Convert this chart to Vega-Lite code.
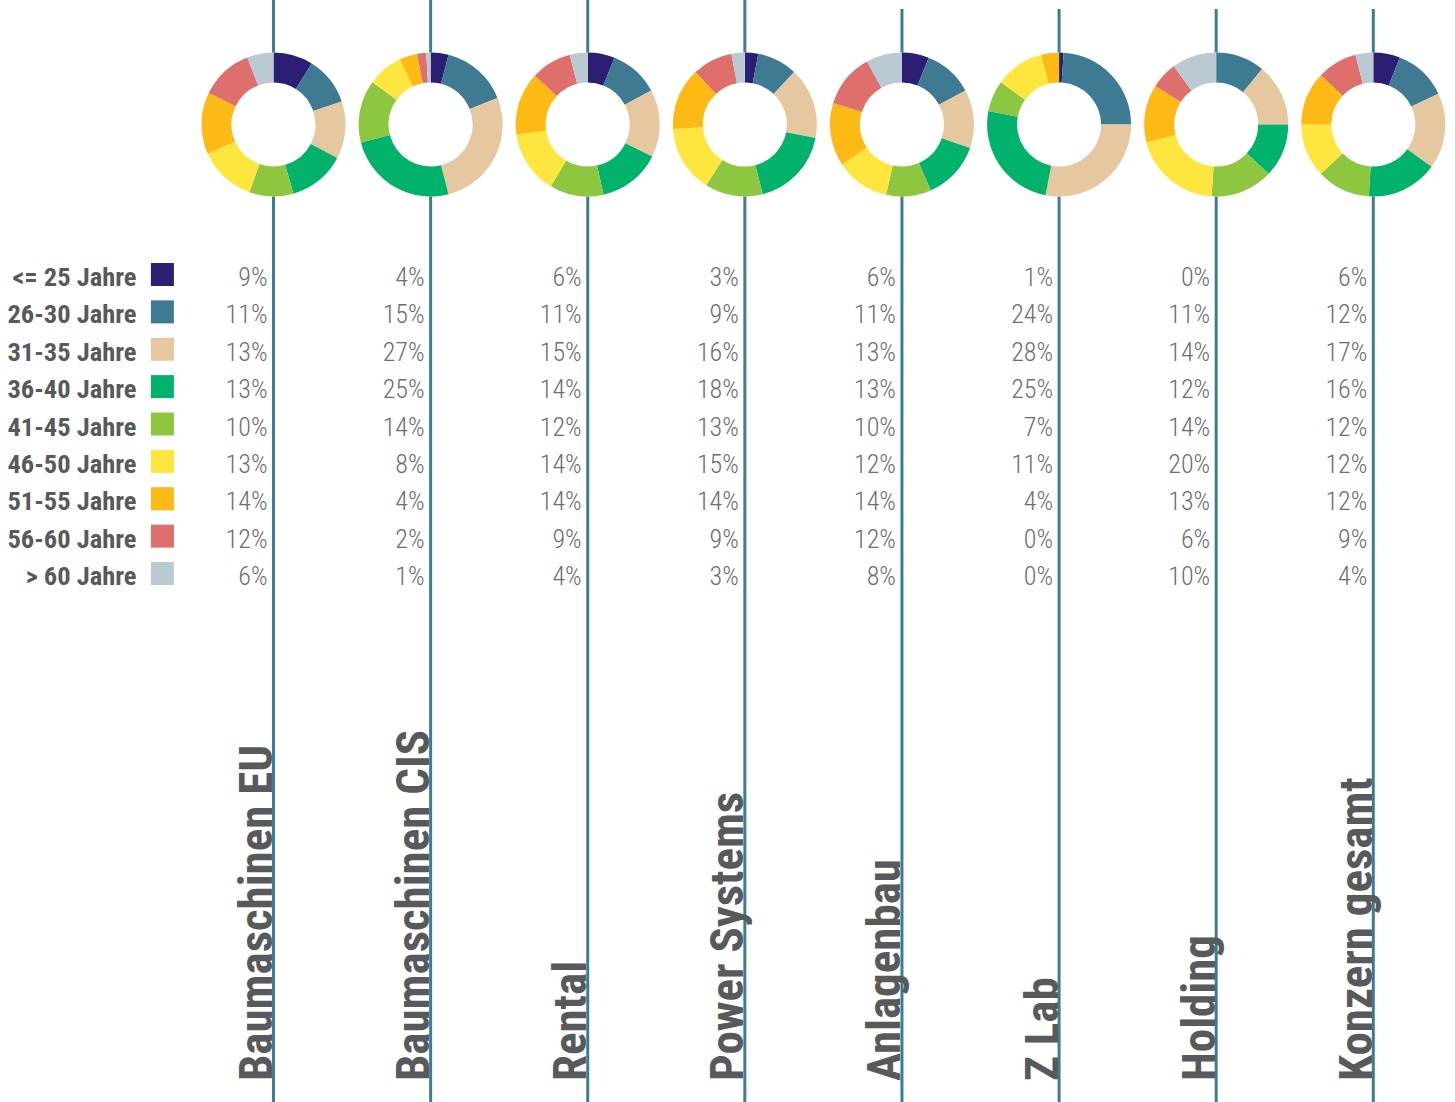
{
  "$schema": "https://vega.github.io/schema/vega-lite/v6.json",
  "width": 1455,
  "height": 1102,
  "autosize": {"type": "none"},
  "padding": 0,
  "background": "white",
  "config": {"view": {"stroke": null}},
  "datasets": {
    "werte": [
      {"seg": "Baumaschinen EU", "age": "<= 25 Jahre", "o": 1, "p": 0.09},
      {"seg": "Baumaschinen EU", "age": "26-30 Jahre", "o": 2, "p": 0.11},
      {"seg": "Baumaschinen EU", "age": "31-35 Jahre", "o": 3, "p": 0.13},
      {"seg": "Baumaschinen EU", "age": "36-40 Jahre", "o": 4, "p": 0.13},
      {"seg": "Baumaschinen EU", "age": "41-45 Jahre", "o": 5, "p": 0.10},
      {"seg": "Baumaschinen EU", "age": "46-50 Jahre", "o": 6, "p": 0.13},
      {"seg": "Baumaschinen EU", "age": "51-55 Jahre", "o": 7, "p": 0.14},
      {"seg": "Baumaschinen EU", "age": "56-60 Jahre", "o": 8, "p": 0.12},
      {"seg": "Baumaschinen EU", "age": "> 60 Jahre", "o": 9, "p": 0.06},
      {"seg": "Baumaschinen CIS", "age": "<= 25 Jahre", "o": 1, "p": 0.04},
      {"seg": "Baumaschinen CIS", "age": "26-30 Jahre", "o": 2, "p": 0.15},
      {"seg": "Baumaschinen CIS", "age": "31-35 Jahre", "o": 3, "p": 0.27},
      {"seg": "Baumaschinen CIS", "age": "36-40 Jahre", "o": 4, "p": 0.25},
      {"seg": "Baumaschinen CIS", "age": "41-45 Jahre", "o": 5, "p": 0.14},
      {"seg": "Baumaschinen CIS", "age": "46-50 Jahre", "o": 6, "p": 0.08},
      {"seg": "Baumaschinen CIS", "age": "51-55 Jahre", "o": 7, "p": 0.04},
      {"seg": "Baumaschinen CIS", "age": "56-60 Jahre", "o": 8, "p": 0.02},
      {"seg": "Baumaschinen CIS", "age": "> 60 Jahre", "o": 9, "p": 0.01},
      {"seg": "Rental", "age": "<= 25 Jahre", "o": 1, "p": 0.06},
      {"seg": "Rental", "age": "26-30 Jahre", "o": 2, "p": 0.11},
      {"seg": "Rental", "age": "31-35 Jahre", "o": 3, "p": 0.15},
      {"seg": "Rental", "age": "36-40 Jahre", "o": 4, "p": 0.14},
      {"seg": "Rental", "age": "41-45 Jahre", "o": 5, "p": 0.12},
      {"seg": "Rental", "age": "46-50 Jahre", "o": 6, "p": 0.14},
      {"seg": "Rental", "age": "51-55 Jahre", "o": 7, "p": 0.14},
      {"seg": "Rental", "age": "56-60 Jahre", "o": 8, "p": 0.09},
      {"seg": "Rental", "age": "> 60 Jahre", "o": 9, "p": 0.04},
      {"seg": "Power Systems", "age": "<= 25 Jahre", "o": 1, "p": 0.03},
      {"seg": "Power Systems", "age": "26-30 Jahre", "o": 2, "p": 0.09},
      {"seg": "Power Systems", "age": "31-35 Jahre", "o": 3, "p": 0.16},
      {"seg": "Power Systems", "age": "36-40 Jahre", "o": 4, "p": 0.18},
      {"seg": "Power Systems", "age": "41-45 Jahre", "o": 5, "p": 0.13},
      {"seg": "Power Systems", "age": "46-50 Jahre", "o": 6, "p": 0.15},
      {"seg": "Power Systems", "age": "51-55 Jahre", "o": 7, "p": 0.14},
      {"seg": "Power Systems", "age": "56-60 Jahre", "o": 8, "p": 0.09},
      {"seg": "Power Systems", "age": "> 60 Jahre", "o": 9, "p": 0.03},
      {"seg": "Anlagenbau", "age": "<= 25 Jahre", "o": 1, "p": 0.06},
      {"seg": "Anlagenbau", "age": "26-30 Jahre", "o": 2, "p": 0.11},
      {"seg": "Anlagenbau", "age": "31-35 Jahre", "o": 3, "p": 0.13},
      {"seg": "Anlagenbau", "age": "36-40 Jahre", "o": 4, "p": 0.13},
      {"seg": "Anlagenbau", "age": "41-45 Jahre", "o": 5, "p": 0.10},
      {"seg": "Anlagenbau", "age": "46-50 Jahre", "o": 6, "p": 0.12},
      {"seg": "Anlagenbau", "age": "51-55 Jahre", "o": 7, "p": 0.14},
      {"seg": "Anlagenbau", "age": "56-60 Jahre", "o": 8, "p": 0.12},
      {"seg": "Anlagenbau", "age": "> 60 Jahre", "o": 9, "p": 0.08},
      {"seg": "Z Lab", "age": "<= 25 Jahre", "o": 1, "p": 0.01},
      {"seg": "Z Lab", "age": "26-30 Jahre", "o": 2, "p": 0.24},
      {"seg": "Z Lab", "age": "31-35 Jahre", "o": 3, "p": 0.28},
      {"seg": "Z Lab", "age": "36-40 Jahre", "o": 4, "p": 0.25},
      {"seg": "Z Lab", "age": "41-45 Jahre", "o": 5, "p": 0.07},
      {"seg": "Z Lab", "age": "46-50 Jahre", "o": 6, "p": 0.11},
      {"seg": "Z Lab", "age": "51-55 Jahre", "o": 7, "p": 0.04},
      {"seg": "Z Lab", "age": "56-60 Jahre", "o": 8, "p": 0.00},
      {"seg": "Z Lab", "age": "> 60 Jahre", "o": 9, "p": 0.00},
      {"seg": "Holding", "age": "<= 25 Jahre", "o": 1, "p": 0.00},
      {"seg": "Holding", "age": "26-30 Jahre", "o": 2, "p": 0.11},
      {"seg": "Holding", "age": "31-35 Jahre", "o": 3, "p": 0.14},
      {"seg": "Holding", "age": "36-40 Jahre", "o": 4, "p": 0.12},
      {"seg": "Holding", "age": "41-45 Jahre", "o": 5, "p": 0.14},
      {"seg": "Holding", "age": "46-50 Jahre", "o": 6, "p": 0.20},
      {"seg": "Holding", "age": "51-55 Jahre", "o": 7, "p": 0.13},
      {"seg": "Holding", "age": "56-60 Jahre", "o": 8, "p": 0.06},
      {"seg": "Holding", "age": "> 60 Jahre", "o": 9, "p": 0.10},
      {"seg": "Konzern gesamt", "age": "<= 25 Jahre", "o": 1, "p": 0.06},
      {"seg": "Konzern gesamt", "age": "26-30 Jahre", "o": 2, "p": 0.12},
      {"seg": "Konzern gesamt", "age": "31-35 Jahre", "o": 3, "p": 0.17},
      {"seg": "Konzern gesamt", "age": "36-40 Jahre", "o": 4, "p": 0.16},
      {"seg": "Konzern gesamt", "age": "41-45 Jahre", "o": 5, "p": 0.12},
      {"seg": "Konzern gesamt", "age": "46-50 Jahre", "o": 6, "p": 0.12},
      {"seg": "Konzern gesamt", "age": "51-55 Jahre", "o": 7, "p": 0.12},
      {"seg": "Konzern gesamt", "age": "56-60 Jahre", "o": 8, "p": 0.09},
      {"seg": "Konzern gesamt", "age": "> 60 Jahre", "o": 9, "p": 0.04}
    ],
    "segmente": [
      {"seg": "Baumaschinen EU"},
      {"seg": "Baumaschinen CIS"},
      {"seg": "Rental"},
      {"seg": "Power Systems"},
      {"seg": "Anlagenbau"},
      {"seg": "Z Lab"},
      {"seg": "Holding"},
      {"seg": "Konzern gesamt"}
    ],
    "alter": [
      {"age": "<= 25 Jahre"},
      {"age": "26-30 Jahre"},
      {"age": "31-35 Jahre"},
      {"age": "36-40 Jahre"},
      {"age": "41-45 Jahre"},
      {"age": "46-50 Jahre"},
      {"age": "51-55 Jahre"},
      {"age": "56-60 Jahre"},
      {"age": "> 60 Jahre"}
    ]
  },
  "layer": [
    {
      "data": {"name": "segmente"},
      "transform": [{"filter": {"field": "seg", "oneOf": ["Baumaschinen EU", "Baumaschinen CIS", "Rental", "Power Systems"]}}],
      "mark": {"type": "rule", "stroke": "#3f7b92", "strokeWidth": 3},
      "encoding": {
        "x": {"field": "seg", "type": "nominal", "axis": null,
          "scale": {"type": "point", "padding": 0, "domain": ["Legende", "Baumaschinen EU", "Baumaschinen CIS", "Rental", "Power Systems", "Anlagenbau", "Z Lab", "Holding", "Konzern gesamt"], "range": [116.4, 1373.3]}}
      }
    },
    {
      "data": {"name": "segmente"},
      "transform": [{"filter": {"field": "seg", "oneOf": ["Anlagenbau", "Z Lab", "Holding", "Konzern gesamt"]}}],
      "mark": {"type": "rule", "stroke": "#3f7b92", "strokeWidth": 3, "yOffset": -269, "y2Offset": 525},
      "encoding": {
        "x": {"field": "seg", "type": "nominal", "axis": null},
        "y": {"datum": "<= 25 Jahre", "type": "nominal", "axis": null,
          "scale": {"type": "point", "padding": 0, "domain": ["<= 25 Jahre", "26-30 Jahre", "31-35 Jahre", "36-40 Jahre", "41-45 Jahre", "46-50 Jahre", "51-55 Jahre", "56-60 Jahre", "> 60 Jahre"], "range": [278, 577]}},
        "y2": {"datum": "> 60 Jahre"}
      }
    },
    {
      "data": {"name": "segmente"},
      "mark": {"type": "arc", "radius": 72, "theta": 0, "theta2": 6.2832, "fill": "white", "yOffset": -153.5},
      "encoding": {
        "x": {"field": "seg", "type": "nominal", "axis": null},
        "y": {"datum": "<= 25 Jahre", "type": "nominal", "axis": null}
      }
    },
    {
      "data": {"name": "werte"},
      "transform": [
        {"stack": "p", "groupby": ["seg"], "sort": [{"field": "o", "order": "ascending"}], "offset": "normalize", "as": ["t0", "t1"]}
      ],
      "mark": {"type": "arc", "radius": 72, "radius2": 42, "yOffset": -153.5},
      "encoding": {
        "x": {"field": "seg", "type": "nominal", "axis": null},
        "y": {"datum": "<= 25 Jahre", "type": "nominal", "axis": null},
        "theta": {"field": "t0", "type": "quantitative", "scale": {"domain": [0, 1], "range": [0, 6.283185]}},
        "theta2": {"field": "t1"},
        "color": {"field": "age", "type": "nominal", "legend": null,
          "scale": {"domain": ["<= 25 Jahre", "26-30 Jahre", "31-35 Jahre", "36-40 Jahre", "41-45 Jahre", "46-50 Jahre", "51-55 Jahre", "56-60 Jahre", "> 60 Jahre"],
            "range": ["#2c1f73", "#3e7a92", "#e5c89f", "#00b26b", "#8dc63f", "#ffe63e", "#fdb914", "#de6f6c", "#b9cad3"]}}
      }
    },
    {
      "data": {"name": "werte"},
      "mark": {"type": "text", "align": "right", "baseline": "middle", "dx": -6, "font": "'Roboto Condensed', Roboto, sans-serif", "fontWeight": 300, "fontSize": 26, "fill": "#6d6e71"},
      "encoding": {
        "x": {"field": "seg", "type": "nominal", "axis": null},
        "y": {"field": "age", "type": "nominal", "axis": null},
        "text": {"field": "p", "type": "quantitative", "format": ".0%"}
      }
    },
    {
      "data": {"name": "alter"},
      "mark": {"type": "text", "align": "right", "baseline": "middle", "dx": 20, "font": "'Roboto Condensed', Roboto, sans-serif", "fontWeight": "bold", "fontSize": 26.5, "fill": "#58595b"},
      "encoding": {
        "x": {"datum": "Legende", "type": "nominal", "axis": null},
        "y": {"field": "age", "type": "nominal", "axis": null},
        "text": {"field": "age"}
      }
    },
    {
      "data": {"name": "alter"},
      "mark": {"type": "square", "size": 529, "filled": true, "opacity": 1, "xOffset": 46, "yOffset": -3.5},
      "encoding": {
        "x": {"datum": "Legende", "type": "nominal", "axis": null},
        "y": {"field": "age", "type": "nominal", "axis": null},
        "color": {"field": "age", "type": "nominal", "legend": null}
      }
    },
    {
      "data": {"name": "segmente"},
      "mark": {"type": "text", "angle": 270, "align": "left", "baseline": "alphabetic", "dx": -504, "dy": -1.5, "font": "'Roboto Condensed', Roboto, sans-serif", "fontWeight": "bold", "fontSize": 47, "fill": "#58595b"},
      "encoding": {
        "x": {"field": "seg", "type": "nominal", "axis": null},
        "y": {"datum": "> 60 Jahre", "type": "nominal", "axis": null},
        "text": {"field": "seg"}
      }
    }
  ]
}
